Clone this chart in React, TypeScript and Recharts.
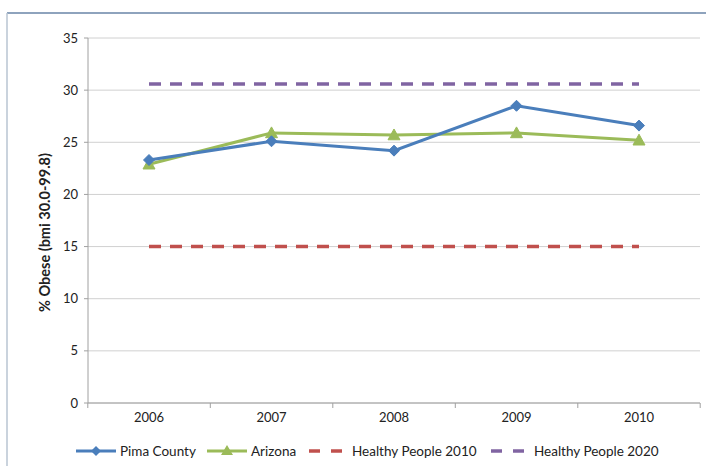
import React from "react";
import {
  LineChart,
  Line,
  XAxis,
  YAxis,
  CartesianGrid,
  Legend,
} from "recharts";

const years = ["2006", "2007", "2008", "2009", "2010"];
const pimaCounty = [23.3, 25.1, 24.2, 28.5, 26.6];
const arizona = [22.9, 25.9, 25.7, 25.9, 25.2];
const healthyPeople2010 = [15, 15, 15, 15, 15];
const healthyPeople2020 = [30.6, 30.6, 30.6, 30.6, 30.6];
const yTicks = [0, 5, 10, 15, 20, 25, 30, 35];

const data = years.map((y, i) => ({
  year: y,
  pima: pimaCounty[i],
  az: arizona[i],
  hp2010: healthyPeople2010[i],
  hp2020: healthyPeople2020[i],
}));

const BLUE = "#4A7EBB";
const GREEN = "#9BBB59";
const RED = "#C0504D";
const PURPLE = "#8064A2";
const FONT = "Lato, 'Open Sans', sans-serif";

const Diamond = (props: any) => {
  const { cx, cy } = props;
  if (cx == null || cy == null) return null;
  const r = 5.5;
  return (
    <path
      d={`M${cx},${cy - r} L${cx + r},${cy} L${cx},${cy + r} L${cx - r},${cy} Z`}
      fill={BLUE}
      stroke={BLUE}
      strokeWidth={1}
    />
  );
};

const Triangle = (props: any) => {
  const { cx, cy } = props;
  if (cx == null || cy == null) return null;
  const r = 6;
  return (
    <path
      d={`M${cx},${cy - r} L${cx + r},${cy + r * 0.8} L${cx - r},${cy + r * 0.8} Z`}
      fill={GREEN}
      stroke={GREEN}
      strokeWidth={1}
    />
  );
};

const XTick = (props: any) => {
  const { x, y, payload, index } = props;
  const half = 61.2;
  return (
    <g>
      <line x1={x - half} y1={y - 8} x2={x - half} y2={y - 3} stroke="#A0A0A0" />
      {index === years.length - 1 && (
        <line x1={x + half} y1={y - 8} x2={x + half} y2={y - 3} stroke="#A0A0A0" />
      )}
      <text
        x={x}
        y={y + 11}
        textAnchor="middle"
        fontSize={13}
        fontFamily={FONT}
        fill="#222"
      >
        {payload.value}
      </text>
    </g>
  );
};

const legendItems = [
  { label: "Pima County", color: BLUE, kind: "diamond", x: 76 },
  { label: "Arizona", color: GREEN, kind: "triangle", x: 207 },
  { label: "Healthy People 2010", color: RED, kind: "dash", x: 309 },
  { label: "Healthy People 2020", color: PURPLE, kind: "dash", x: 491 },
];

const LegendContent = () => (
  <svg width={706} height={33} style={{ display: "block" }}>
    {legendItems.map((it) => {
      const cy = 18;
      const x0 = it.x;
      let icon;
      if (it.kind === "dash") {
        icon = (
          <g>
            <line x1={x0} y1={cy} x2={x0 + 11} y2={cy} stroke={it.color} strokeWidth={3.5} />
            <line x1={x0 + 22} y1={cy} x2={x0 + 33} y2={cy} stroke={it.color} strokeWidth={3.5} />
          </g>
        );
      } else {
        const mid = x0 + 20;
        icon = (
          <g>
            <line x1={x0} y1={cy} x2={x0 + 40} y2={cy} stroke={it.color} strokeWidth={3} />
            {it.kind === "diamond" ? (
              <path d={`M${mid},${cy - 5} L${mid + 5},${cy} L${mid},${cy + 5} L${mid - 5},${cy} Z`} fill={it.color} />
            ) : (
              <path d={`M${mid},${cy - 6} L${mid + 6},${cy + 4} L${mid - 6},${cy + 4} Z`} fill={it.color} />
            )}
          </g>
        );
      }
      const tx = it.kind === "dash" ? x0 + 43 : x0 + 44;
      return (
        <g key={it.label}>
          {icon}
          <text x={tx} y={cy + 5} fontSize={13.5} fontFamily={FONT} fill="#222">
            {it.label}
          </text>
        </g>
      );
    })}
  </svg>
);

export default function App() {
  return (
    <div
      style={{
        position: "absolute",
        left: 0,
        top: 0,
        width: 706,
        height: 466,
        background: "#fff",
      }}
    >
      <svg
        width={706}
        height={466}
        style={{ position: "absolute", left: 0, top: 0 }}
      >
        <line x1={7} y1={13} x2={706} y2={13} stroke="#8EA3BD" strokeWidth={2} />
        <line x1={7} y1={13} x2={7} y2={466} stroke="#B8C4D2" strokeWidth={1.5} />
      </svg>
      <div style={{ position: "absolute", left: 0, top: 0 }}>
        <LineChart
          width={706}
          height={466}
          data={data}
          margin={{ top: 38, right: 6, bottom: 0, left: 0 }}
        >
          <CartesianGrid vertical={false} stroke="#D0D0D0" />
          <XAxis
            dataKey="year"
            height={30}
            axisLine={{ stroke: "#A0A0A0" }}
            tickLine={false}
            tick={<XTick />}
            interval={0}
            padding={{ left: 61, right: 61 }}
          />
          <YAxis
            width={88}
            domain={[0, 35]}
            ticks={yTicks}
            interval={0}
            axisLine={{ stroke: "#A0A0A0" }}
            tickLine={{ stroke: "#A0A0A0" }}
            tickSize={4}
            tickMargin={6}
            tick={{ fontSize: 13, fontFamily: FONT, fill: "#222" }}
            label={{
              value: "% Obese (bmi 30.0-99.8)",
              angle: -90,
              position: "insideLeft",
              dx: 40,
              dy: 12,
              style: {
                textAnchor: "middle",
                fontSize: 14.5,
                fontWeight: 700,
                fontFamily: FONT,
                fill: "#222",
              },
            }}
          />
          <Legend
            verticalAlign="bottom"
            height={33}
            content={<LegendContent />}
          />
          <Line
            dataKey="hp2010"
            stroke={RED}
            strokeWidth={3.5}
            strokeDasharray="12 9"
            dot={false}
            isAnimationActive={false}
            legendType="none"
          />
          <Line
            dataKey="hp2020"
            stroke={PURPLE}
            strokeWidth={3.5}
            strokeDasharray="12 9"
            dot={false}
            isAnimationActive={false}
          />
          <Line
            dataKey="az"
            stroke={GREEN}
            strokeWidth={3}
            dot={<Triangle />}
            isAnimationActive={false}
          />
          <Line
            dataKey="pima"
            stroke={BLUE}
            strokeWidth={3}
            dot={<Diamond />}
            isAnimationActive={false}
          />
        </LineChart>
      </div>
    </div>
  );
}
